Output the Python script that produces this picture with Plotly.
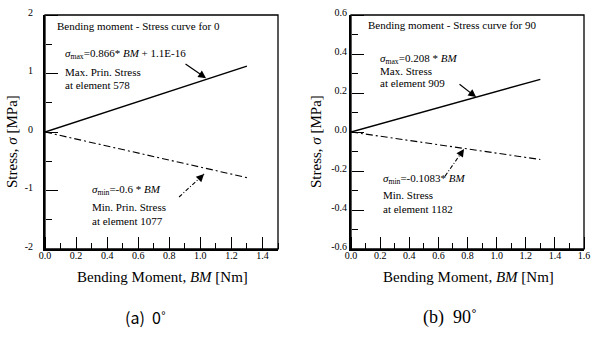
import plotly.graph_objects as go

# ---- data ----
BM = [0.0, 1.3]
s_max_0 = [0.0, 1.126]     # 0.866 * BM
s_min_0 = [0.0, -0.78]     # -0.6 * BM
s_max_90 = [0.0, 0.270]    # 0.208 * BM
s_min_90 = [0.0, -0.141]   # -0.1083 * BM

x0_ticks = [0.0, 0.2, 0.4, 0.6, 0.8, 1.0, 1.2, 1.4]
x0_labels = ["0.0", "0.2", "0.4", "0.6", "0.8", "1.0", "1.2", "1.4"]
y0_ticks = [-2, -1, 0, 1, 2]
y0_labels = ["-2", "-1", "0", "1", "2"]

x90_ticks = [0.0, 0.2, 0.4, 0.6, 0.8, 1.0, 1.2, 1.4, 1.6]
x90_labels = ["0.0", "0.2", "0.4", "0.6", "0.8", "1.0", "1.2", "1.4", "1.6"]
y90_ticks = [-0.6, -0.4, -0.2, 0.0, 0.2, 0.4, 0.6]
y90_labels = ["-0.6", "-0.4", "-0.2", "0.0", "0.2", "0.4", "0.6"]

SERIF = "Liberation Serif, Times New Roman, serif"
W, H = 592, 338
DD = "7px,3px,2px,3px"

fig = go.Figure()
fig.add_trace(go.Scatter(x=BM, y=s_max_0, mode="lines", line=dict(color="black", width=1.5),
                         xaxis="x", yaxis="y", showlegend=False))
fig.add_trace(go.Scatter(x=BM, y=s_min_0, mode="lines", line=dict(color="black", width=1.1, dash=DD),
                         xaxis="x", yaxis="y", showlegend=False))
fig.add_trace(go.Scatter(x=BM, y=s_max_90, mode="lines", line=dict(color="black", width=1.5),
                         xaxis="x2", yaxis="y2", showlegend=False))
fig.add_trace(go.Scatter(x=BM, y=s_min_90, mode="lines", line=dict(color="black", width=1.1, dash=DD),
                         xaxis="x2", yaxis="y2", showlegend=False))
# invisible carriers so the tick-only overlay axes are laid out
for xa, ya, yy in [("x3", "y", s_max_0), ("x", "y3", s_max_0),
                   ("x4", "y2", s_max_90), ("x2", "y4", s_max_90)]:
    fig.add_trace(go.Scatter(x=BM, y=yy, mode="lines", line=dict(width=0, color="rgba(0,0,0,0)"),
                             xaxis=xa, yaxis=ya, showlegend=False, hoverinfo="skip"))

tickfont = dict(family=SERIF, size=10, color="black")
ydom = [1 - 249 / H, 1 - 15 / H]

def main_x(dom, rng, tv, tt, anchor):
    return dict(domain=dom, range=rng, tickmode="array", tickvals=tv, ticktext=tt,
                ticks="", showline=True, linewidth=2, linecolor="black", showgrid=False,
                zeroline=False, tickfont=tickfont, ticklabelstandoff=-4,
                automargin=False, anchor=anchor)

def main_y(dom, rng, tv, tt, anchor, gap):
    # transparent outside ticks only set the gap between labels and axis line
    d = dict(domain=dom, range=rng, tickmode="array", tickvals=tv, ticktext=tt,
             showline=True, linewidth=2, linecolor="black", showgrid=False,
             zeroline=False, tickfont=tickfont,
             ticklabelshift=-3, automargin=False, anchor=anchor)
    if gap > 0:
        d.update(ticks="outside", ticklen=gap, tickcolor="rgba(0,0,0,0)")
    else:
        d.update(ticks="")
    return d

def tick_x(base, rng, tv, pos):
    # top-side axis placed on the bottom line: its outside ticks point into the plot
    return dict(overlaying=base, side="top", anchor="free", position=pos, range=rng,
                tickmode="array", tickvals=tv, ticks="outside", ticklen=12, tickwidth=1.4,
                tickcolor="black", showticklabels=False, showline=False, showgrid=False,
                zeroline=False, automargin=False,
                minor=dict(tickmode="linear", tick0=0, dtick=0.1, ticks="outside",
                           ticklen=6, tickwidth=1.2, tickcolor="black"))

def tick_y(base, rng, tv, minor, pos):
    # right-side axis placed on the left line: its outside ticks point into the plot
    return dict(overlaying=base, side="right", anchor="free", position=pos, range=rng,
                tickmode="array", tickvals=tv, ticks="outside", ticklen=12, tickwidth=1.4,
                tickcolor="black", showticklabels=False, showline=False, showgrid=False,
                zeroline=False, automargin=False,
                minor=dict(tickmode="linear", tick0=0, dtick=minor, ticks="outside",
                           ticklen=6, tickwidth=1.2, tickcolor="black"))

fig.update_layout(
    template="none",
    width=W, height=H, margin=dict(l=0, r=0, t=0, b=0, autoexpand=False),
    paper_bgcolor="white", plot_bgcolor="white",
    xaxis=main_x([45 / W, 278 / W], [0, 1.5], x0_ticks, x0_labels, "y"),
    yaxis=main_y(ydom, [-2, 2], y0_ticks, y0_labels, "x", 8),
    xaxis2=main_x([351 / W, 584 / W], [0, 1.6], x90_ticks, x90_labels, "y2"),
    yaxis2=main_y(ydom, [-0.6, 0.6], y90_ticks, y90_labels, "x2", 0),
    xaxis3=tick_x("x", [0, 1.5], x0_ticks, ydom[0]),
    yaxis3=tick_y("y", [-2, 2], y0_ticks, 0.5, 45 / W),
    xaxis4=tick_x("x2", [0, 1.6], x90_ticks, ydom[0]),
    yaxis4=tick_y("y2", [-0.6, 0.6], y90_ticks, 0.1, 351 / W),
)

# thin frame (top / right)
for xr, yr in [("x domain", "y domain"), ("x2 domain", "y2 domain")]:
    fig.add_shape(type="rect", xref=xr, yref=yr, x0=0, x1=1, y0=0, y1=1,
                  line=dict(color="black", width=1.3), fillcolor="rgba(0,0,0,0)", layer="above")

txt = dict(family=SERIF, size=11, color="black")

def label(x, y, s, xr, yr):
    fig.add_annotation(x=x, y=y, xref=xr, yref=yr, text=s, showarrow=False,
                       xanchor="left", yanchor="middle", font=txt)

label(0.064, 1.81, "Bending moment - Stress curve for 0", "x", "y")
label(0.116, 1.33, "<i>σ</i><sub>max</sub>=0.866* <i>BM</i> + 1.1E-16", "x", "y")
label(0.116, 1.03, "Max. Prin. Stress", "x", "y")
label(0.116, 0.80, "at element 578", "x", "y")
label(0.29, -0.99, "<i>σ</i><sub>min</sub>=-0.6 * <i>BM</i>", "x", "y")
label(0.29, -1.28, "Min. Prin. Stress", "x", "y")
label(0.29, -1.52, "at element 1077", "x", "y")

label(0.103, 0.549, "Bending moment - Stress curve for 90", "x2", "y2")
label(0.185, 0.376, "<i>σ</i><sub>max</sub>=0.208 * <i>BM</i>", "x2", "y2")
label(0.185, 0.314, "Max. Stress", "x2", "y2")
label(0.185, 0.251, "at element 909", "x2", "y2")
label(0.206, -0.241, "<i>σ</i><sub>min</sub>=-0.1083* <i>BM</i>", "x2", "y2")
label(0.206, -0.323, "Min. Stress", "x2", "y2")
label(0.206, -0.395, "at element 1182", "x2", "y2")

for (hx, hy, tx, ty, xr, yr) in [(1.037, 0.92, 0.895, 1.18, "x", "y"),
                                 (0.859, 0.179, 0.735, 0.251, "x2", "y2")]:
    fig.add_annotation(x=hx, y=hy, ax=tx, ay=ty, xref=xr, yref=yr, axref=xr, ayref=yr,
                       text="", showarrow=True, arrowhead=2, arrowsize=1.3,
                       arrowwidth=1.2, arrowcolor="black")

for (hx, hy, tx, ty, xr, yr, px, py) in [(1.024, -0.718, 0.863, -1.111, "x", "y", -5, 5),
                                         (0.776, -0.087, 0.646, -0.226, "x2", "y2", -4, 6)]:
    fig.add_shape(type="line", xref=xr, yref=yr, x0=tx, y0=ty, x1=hx, y1=hy,
                  line=dict(color="black", width=1.1, dash="4px,2px,1px,2px"))
    fig.add_annotation(x=hx, y=hy, ax=px, ay=py, xref=xr, yref=yr,
                       text="", showarrow=True, arrowhead=2, arrowsize=1.3,
                       arrowwidth=1.2, arrowcolor="black")

ttl = dict(family=SERIF, size=15, color="black")
for xp in [12, 316]:
    fig.add_annotation(x=xp / W, y=1 - 142 / H, xref="paper", yref="paper",
                       text="Stress, <i>σ</i> [MPa]", textangle=-90, showarrow=False,
                       xanchor="center", yanchor="middle", font=ttl)
for xp in [162, 468]:
    fig.add_annotation(x=xp / W, y=1 - 277 / H, xref="paper", yref="paper",
                       text="Bending Moment, <i>BM</i> [Nm]", showarrow=False,
                       xanchor="center", yanchor="middle", font=ttl)

fig.add_annotation(x=145 / W, y=1 - 317 / H, xref="paper", yref="paper",
                   text="(a)  0˚", showarrow=False, xanchor="center", yanchor="middle",
                   font=dict(family="Noto Sans CJK KR", size=16, color="black"))
fig.add_annotation(x=450 / W, y=1 - 317 / H, xref="paper", yref="paper",
                   text="(b)  90˚", showarrow=False, xanchor="center", yanchor="middle",
                   font=dict(family=SERIF, size=18, color="black"))

fig.write_html("out.html", config={"displayModeBar": False},
               post_script="document.body.style.margin='0';")
